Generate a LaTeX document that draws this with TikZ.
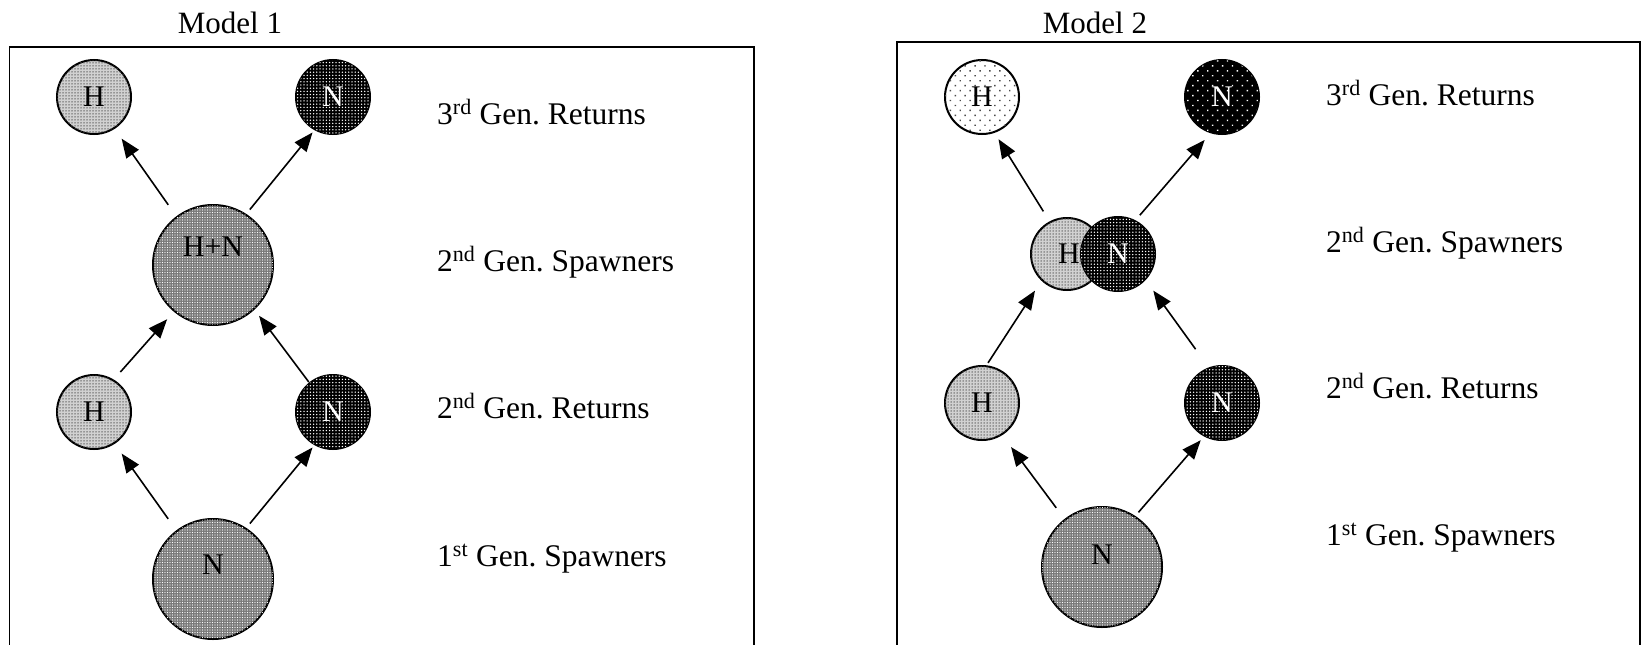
\documentclass[tikz,border=0pt]{standalone}
\usepackage{fontspec}
\setmainfont{Liberation Serif}
\frenchspacing
\usetikzlibrary{arrows.meta,patterns.meta}
\tikzset{
  frameline/.style={line width=1.5pt},
  circ/.style={circle, draw, line width=2pt, inner sep=0pt, outer sep=0pt, font=\fontsize{30}{32}\selectfont},
  smallc/.style={circ, minimum size=74pt},
  pairc/.style={circ, minimum size=72pt},
  bigc/.style={circ, minimum size=120pt},
  lightH/.style={fill=black!18, postaction={pattern={Dots[distance=3pt,radius=0.75pt]}, pattern color=black!65}},
  darkN/.style={fill=black, text=white, postaction={pattern={Dots[distance=3.2pt,radius=0.75pt]}, pattern color=white}},
  bigG/.style={fill=black!52, postaction={pattern={Dots[distance=2.5pt,radius=0.6pt]}, pattern color=white}},
  sparseH/.style={fill=white, postaction={pattern={Dots[distance=7pt,radius=1pt,angle=45]}, pattern color=black!70}},
  sparseN/.style={fill=black, text=white, postaction={pattern={Dots[distance=7pt,radius=1pt,angle=45]}, pattern color=white}},
  arr/.style={line width=1.6pt, -{Triangle[length=19pt,width=15pt]}},
  lab/.style={anchor=base west, inner sep=0pt, font=\fontsize{31.5}{35}\selectfont},
  ttl/.style={anchor=base, inner sep=0pt, font=\fontsize{31}{34}\selectfont},
  biglab/.style={font=\fontsize{30}{32}\selectfont, inner sep=0pt}
}
\begin{document}
\begin{tikzpicture}[x=1pt,y=-1pt]
\useasboundingbox (0,0) rectangle (1642,645);

% ---------- Model 1 ----------
\node[ttl] (t1) at (230,33) {Model 1};
\draw[frameline] (9.5,645) -- (9.5,47) -- (754,47) -- (754,645);

\node[smallc,lightH] (m1h3) at (94,97) {H};
\node[smallc,darkN] (m1n3) at (333,97) {N};
\node[bigc,bigG,label={[biglab,yshift=18pt]center:{H+N}}] (m1hn) at (213,265) {};
\node[smallc,lightH] (m1hm) at (94,412) {H};
\node[smallc,darkN] (m1nm) at (333,412) {N};
\node[bigc,bigG,label={[biglab,yshift=14pt]center:{N}}] (m1nb) at (213,579) {};

\draw[arr, shorten <=15pt, shorten >=13pt] (m1hn.127) -- (m1h3.303);
\draw[arr, shorten <=6.6pt, shorten >=4pt] (m1hn.57) -- (m1n3.241);
\draw[arr, shorten <=11pt, shorten >=11pt] (m1hm.59) -- (m1hn.230);
\draw[arr, shorten <=1.5pt, shorten >=8.6pt] (m1nm.129) -- (m1hn.313);
\draw[arr, shorten <=15pt, shorten >=13pt] (m1nb.127) -- (m1hm.303);
\draw[arr, shorten <=6.6pt, shorten >=4pt] (m1nb.57) -- (m1nm.241);

\node[lab] (m1l3) at (437,124) {3\textsuperscript{rd} Gen. Returns};
\node[lab] (m1l2s) at (437,271) {2\textsuperscript{nd} Gen. Spawners};
\node[lab] (m1l2r) at (437,418) {2\textsuperscript{nd} Gen. Returns};
\node[lab] (m1l1) at (437,566) {1\textsuperscript{st} Gen. Spawners};

% ---------- Model 2 ----------
\node[ttl] (t2) at (1095,33) {Model 2};
\draw[frameline] (897,645) -- (897,42) -- (1640,42) -- (1640,645);

\node[smallc,sparseH] (m2h3) at (982,97) {H};
\node[smallc,sparseN] (m2n3) at (1222,97) {N};
\node[pairc,lightH] (m2ph) at (1067,254) {\hspace*{4pt}H};
\node[smallc,darkN] (m2pn) at (1118,254) {N};
\node[smallc,lightH] (m2hm) at (982,403) {H};
\node[smallc,darkN] (m2nm) at (1222,403) {N};
\node[bigc,bigG,label={[biglab,yshift=12pt]center:{N}}] (m2nb) at (1102,567) {};

\draw[arr, shorten <=12.8pt, shorten >=8.5pt] (m2ph.118) -- (m2h3.289);
\draw[arr, shorten <=7.7pt, shorten >=10pt] (m2pn.63) -- (m2n3.253);
\draw[arr, shorten <=4pt, shorten >=12.8pt] (m2hm.84) -- (m2ph.226);
\draw[arr, shorten <=23.5pt, shorten >=14pt] (m2nm.110) -- (m2pn.317);
\draw[arr, shorten <=14.8pt, shorten >=15.8pt] (m2nb.128) -- (m2hm.302);
\draw[arr, shorten <=5.7pt, shorten >=6pt] (m2nb.57) -- (m2nm.242);

\node[lab] (m2l3) at (1326,105) {3\textsuperscript{rd} Gen. Returns};
\node[lab] (m2l2s) at (1326,252) {2\textsuperscript{nd} Gen. Spawners};
\node[lab] (m2l2r) at (1326,398) {2\textsuperscript{nd} Gen. Returns};
\node[lab] (m2l1) at (1326,545) {1\textsuperscript{st} Gen. Spawners};
\end{tikzpicture}
\end{document}
